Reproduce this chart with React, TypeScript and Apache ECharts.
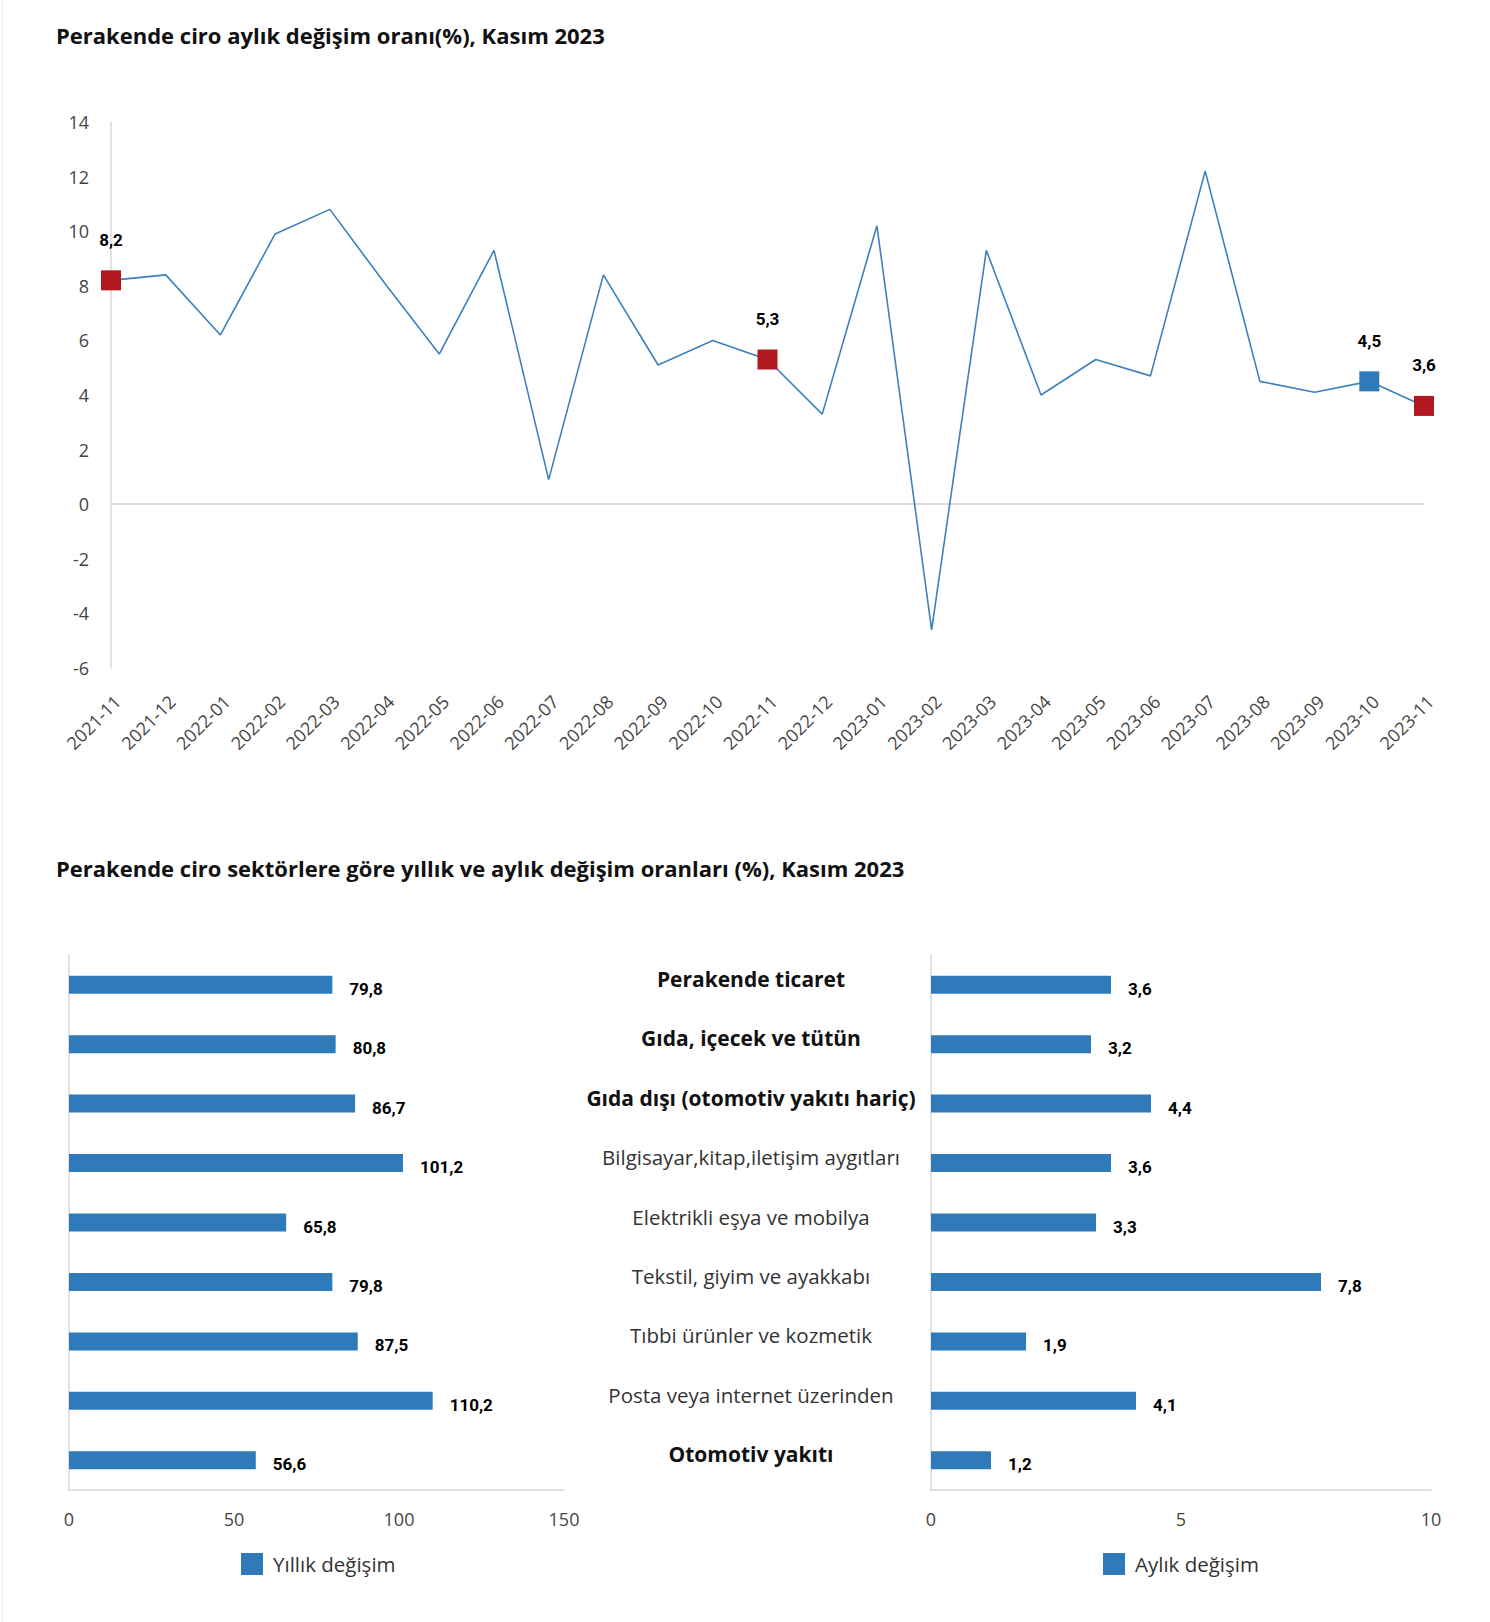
import React, { useEffect, useRef } from "react";
import * as echarts from "echarts";

const months = [
  "2021-11", "2021-12", "2022-01", "2022-02", "2022-03", "2022-04", "2022-05",
  "2022-06", "2022-07", "2022-08", "2022-09", "2022-10", "2022-11", "2022-12",
  "2023-01", "2023-02", "2023-03", "2023-04", "2023-05", "2023-06", "2023-07",
  "2023-08", "2023-09", "2023-10", "2023-11",
];
const monthlyChange = [
  8.2, 8.4, 6.2, 9.9, 10.8, 8.1, 5.5, 9.3, 0.9, 8.4, 5.1, 6.0, 5.3, 3.3, 10.2,
  -4.6, 9.3, 4.0, 5.3, 4.7, 12.2, 4.5, 4.1, 4.5, 3.6,
];
const highlightRed = [0, 12, 24];
const highlightBlue = [23];
const yTicks = { min: -6, max: 14, interval: 2 };

const sectors = [
  "Perakende ticaret",
  "Gıda, içecek ve tütün",
  "Gıda dışı (otomotiv yakıtı hariç)",
  "Bilgisayar,kitap,iletişim aygıtları",
  "Elektrikli eşya ve mobilya",
  "Tekstil, giyim ve ayakkabı",
  "Tıbbi ürünler ve kozmetik",
  "Posta veya internet üzerinden",
  "Otomotiv yakıtı",
];
const boldSectors = [0, 1, 2, 8];
const annualChange = [79.8, 80.8, 86.7, 101.2, 65.8, 79.8, 87.5, 110.2, 56.6];
const monthlySectorChange = [3.6, 3.2, 4.4, 3.6, 3.3, 7.8, 1.9, 4.1, 1.2];

const title1 = "Perakende ciro aylık değişim oranı(%), Kasım 2023";
const title2 = "Perakende ciro sektörlere göre yıllık ve aylık değişim oranları (%), Kasım 2023";
const legendAnnual = "Yıllık değişim";
const legendMonthly = "Aylık değişim";

const BLUE = "#2f7bba";
const LINE = "#3d80bd";
const RED = "#b0171f";
const AXIS = "#d9d9d9";
const FONT = "'Open Sans', 'Noto Sans', sans-serif";
const NUMFONT = "'Liberation Sans Narrow', 'Roboto', sans-serif";

const fmt = (v: number) => String(v).replace(".", ",");

export default function App() {
  const ref = useRef<HTMLDivElement>(null);
  useEffect(() => {
    document.body.style.margin = "0";
    if (!ref.current) return;
    const chart = echarts.init(ref.current, undefined, { renderer: "svg" });

    const lineData = monthlyChange.map((v, i) => {
      const isRed = highlightRed.includes(i);
      const isBlue = highlightBlue.includes(i);
      if (isRed || isBlue) {
        return {
          value: v,
          symbol: "rect",
          symbolSize: 20,
          itemStyle: { color: isRed ? RED : BLUE },
          label: {
            show: true,
            position: "top",
            distance: 22,
            formatter: (p: any) => fmt(p.value),
            color: "#000",
            fontWeight: "bold",
            fontSize: 17,
            fontFamily: NUMFONT,
          },
        };
      }
      return { value: v, symbol: "none" };
    });

    const barLabel = {
      show: true,
      position: "right",
      distance: 17,
      offset: [0, 4],
      formatter: (p: any) => fmt(p.value),
      color: "#000",
      fontWeight: "bold",
      fontSize: 17,
      fontFamily: NUMFONT,
    };

    const legendCommon = {
      top: 1548,
      icon: "rect",
      itemWidth: 22,
      itemHeight: 22,
      itemGap: 8,
      textStyle: { fontSize: 20.5, color: "#333", fontFamily: FONT, padding: [0, 0, 0, 5] },
      selectedMode: false,
    };

    const option: any = {
      animation: false,
      backgroundColor: "#fff",
      textStyle: { fontFamily: FONT },
      title: [
        {
          text: title1,
          left: 51,
          top: 19,
          textStyle: { fontSize: 22, fontWeight: "bold", color: "#111", fontFamily: FONT },
        },
        {
          text: title2,
          left: 51,
          top: 852,
          textStyle: { fontSize: 22, fontWeight: "bold", color: "#111", fontFamily: FONT },
        },
      ],
      graphic: [
        {
          type: "line",
          shape: { x1: 2.5, y1: 0, x2: 2.5, y2: 1622 },
          style: { stroke: "#ececec", lineWidth: 1 },
        },
      ],
      legend: [
        { ...legendCommon, data: [legendAnnual], left: 236 },
        { ...legendCommon, data: [legendMonthly], left: 1098 },
      ],
      grid: [
        { left: 111, right: 66, top: 122, bottom: 954 },
        { left: 69, right: 926, top: 955, bottom: 132 },
        { left: 931, right: 59, top: 955, bottom: 132 },
      ],
      xAxis: [
        {
          type: "category",
          gridIndex: 0,
          data: months,
          boundaryGap: false,
          axisLine: { show: true, lineStyle: { color: AXIS, width: 1.5 } },
          axisTick: { show: false },
          axisLabel: {
            interval: 0,
            rotate: 45,
            margin: 24,
            verticalAlign: "top",
            fontSize: 18,
            color: "#444",
            fontFamily: FONT,
          },
        },
        {
          type: "value",
          gridIndex: 1,
          min: 0,
          max: 150,
          interval: 50,
          splitLine: { show: false },
          axisLine: { show: true, lineStyle: { color: AXIS, width: 1.5 } },
          axisTick: { show: false },
          axisLabel: { fontSize: 18, color: "#444", margin: 20, fontFamily: FONT },
        },
        {
          type: "value",
          gridIndex: 2,
          min: 0,
          max: 10,
          interval: 5,
          splitLine: { show: false },
          axisLine: { show: true, lineStyle: { color: AXIS, width: 1.5 } },
          axisTick: { show: false },
          axisLabel: { fontSize: 18, color: "#444", margin: 20, fontFamily: FONT },
        },
      ],
      yAxis: [
        {
          type: "value",
          gridIndex: 0,
          min: yTicks.min,
          max: yTicks.max,
          interval: yTicks.interval,
          splitLine: { show: false },
          axisLine: { show: true, lineStyle: { color: AXIS, width: 1.5 } },
          axisTick: { show: false },
          axisLabel: { fontSize: 18, color: "#444", margin: 22, fontFamily: FONT },
        },
        {
          type: "category",
          gridIndex: 1,
          data: sectors,
          inverse: true,
          axisLine: { show: true, lineStyle: { color: AXIS, width: 1.5 } },
          axisTick: { show: false },
          axisLabel: { show: false },
        },
        {
          type: "category",
          gridIndex: 2,
          data: sectors,
          inverse: true,
          axisLine: { show: true, lineStyle: { color: AXIS, width: 1.5 } },
          axisTick: { show: false },
          axisLabel: {
            show: true,
            interval: 0,
            margin: 180,
            align: "center",
            padding: [0, 0, 12, 0],
            formatter: (v: string, i: number) =>
              boldSectors.includes(i) ? `{b|${v}}` : `{n|${v}}`,
            rich: {
              b: { fontSize: 21, fontWeight: "bold", color: "#111", fontFamily: FONT },
              n: { fontSize: 20.5, color: "#333", fontFamily: FONT },
            },
          },
        },
      ],
      series: [
        {
          type: "line",
          xAxisIndex: 0,
          yAxisIndex: 0,
          data: lineData,
          symbol: "rect",
          symbolSize: 20,
          showSymbol: true,
          lineStyle: { color: LINE, width: 1.6 },
          itemStyle: { color: LINE },
          z: 3,
          markLine: {
            silent: true,
            symbol: "none",
            label: { show: false },
            lineStyle: { color: AXIS, width: 1.5, type: "solid" },
            data: [{ yAxis: 0 }],
            z: 1,
          },
        },
        {
          name: legendAnnual,
          type: "bar",
          xAxisIndex: 1,
          yAxisIndex: 1,
          data: annualChange,
          barWidth: 18,
          itemStyle: { color: BLUE },
          label: barLabel,
        },
        {
          name: legendMonthly,
          type: "bar",
          xAxisIndex: 2,
          yAxisIndex: 2,
          data: monthlySectorChange,
          barWidth: 18,
          itemStyle: { color: BLUE },
          label: barLabel,
        },
      ],
    };
    chart.setOption(option);
    return () => chart.dispose();
  }, []);
  return <div ref={ref} style={{ width: 1490, height: 1622 }} />;
}
